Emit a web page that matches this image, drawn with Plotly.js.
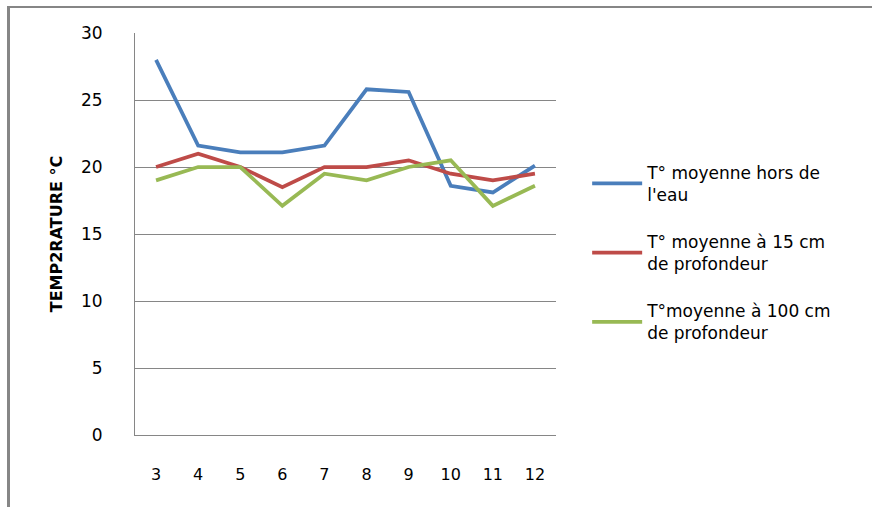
<!DOCTYPE html>
<html>
<head>
<meta charset="utf-8">
<script src="https://cdn.plot.ly/plotly-3.0.1.min.js"></script>
<style>
  html, body { margin: 0; padding: 0; background: #fff; }
  #wrap { position: relative; width: 872px; height: 507px; overflow: hidden; }
  #chart { position: absolute; left: 0; top: 0; width: 872px; height: 507px; }
  #frameTop { position: absolute; left: 8px; top: 6px; width: 864px; height: 2px; background: #868686; }
  #frameLeft { position: absolute; left: 7px; top: 6px; width: 3px; height: 501px; background: #868686; }
</style>
</head>
<body>
<div id="wrap">
  <div id="chart"></div>
  <div id="frameTop"></div>
  <div id="frameLeft"></div>
</div>
<script>
const categories = ["3", "4", "5", "6", "7", "8", "9", "10", "11", "12"];
const horsEau = [28.0, 21.6, 21.1, 21.1, 21.6, 25.8, 25.6, 18.6, 18.1, 20.1];
const prof15 = [20.0, 21.0, 20.0, 18.5, 20.0, 20.0, 20.5, 19.5, 19.0, 19.5];
const prof100 = [19.0, 20.0, 20.0, 17.1, 19.5, 19.0, 20.0, 20.5, 17.1, 18.6];
const seriesNames = [
  "T° moyenne hors de<br>l'eau",
  "T° moyenne à 15 cm<br>de profondeur",
  "T°moyenne à 100 cm<br>de profondeur"
];
const yTicks = [0, 5, 10, 15, 20, 25, 30];

const font = "DejaVu Sans, Liberation Sans, sans-serif";
const colors = ["#4a7ebb", "#be4b48", "#98b954"];
const traces = [horsEau, prof15, prof100].map((ys, i) => ({
  type: "scatter",
  mode: "lines",
  x: categories,
  y: ys,
  name: seriesNames[i],
  legendgroup: "g" + i,
  line: { color: colors[i], width: 3.75 },
  hoverinfo: "x+y"
}));

const layout = {
  width: 872,
  height: 507,
  margin: { l: 135, r: 316, t: 33, b: 72, pad: 0 },
  paper_bgcolor: "#ffffff",
  plot_bgcolor: "#ffffff",
  font: { family: font, size: 16, color: "#000000" },
  showlegend: true,
  legend: {
    x: 1.074, xanchor: "left",
    y: 0.697, yanchor: "top",
    font: { family: font, size: 17, color: "#000" },
    tracegroupgap: 22,
    itemwidth: 50,
    bgcolor: "rgba(0,0,0,0)"
  },
  xaxis: {
    type: "category",
    categoryarray: categories,
    range: [-0.5, categories.length - 0.5],
    showgrid: false,
    showline: true,
    linecolor: "#868686",
    linewidth: 1,
    ticks: "",
    ticklabelstandoff: 25,
    tickfont: { family: font, size: 16, color: "#000" },
    zeroline: false,
    fixedrange: true
  },
  yaxis: {
    range: [0, 30],
    tickvals: yTicks,
    ticktext: yTicks.map(String),
    showgrid: true,
    gridcolor: "#868686",
    gridwidth: 1,
    showline: true,
    linecolor: "#868686",
    linewidth: 1,
    ticks: "",
    ticklabelstandoff: 28,
    tickfont: { family: font, size: 17, color: "#000" },
    zeroline: false,
    title: {
      text: "<b>TEMP2RATURE °C</b>",
      font: { family: font, size: 16, color: "#000" },
      standoff: 14
    },
    fixedrange: true
  }
};

Plotly.newPlot("chart", traces, layout, { displayModeBar: false, staticPlot: true });
</script>
</body>
</html>
